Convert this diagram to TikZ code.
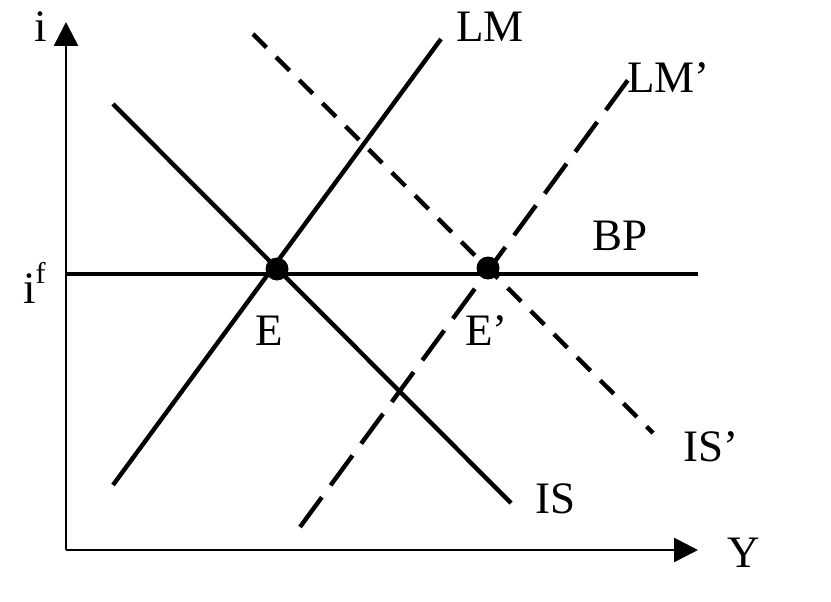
\documentclass[tikz,border=0pt]{standalone}
\usepackage{fontspec}
\setmainfont{Liberation Serif}
\usetikzlibrary{arrows.meta}
\begin{document}
\begin{tikzpicture}[x=1pt,y=-1pt,
  axis/.style={line width=2.8pt,-{Triangle[length=24pt,width=24pt]}},
  curve/.style={line width=4.4pt},
  lmdash/.style={line width=4.4pt,dash pattern=on 37pt off 14.7pt},
  isdash/.style={line width=4.4pt,dash pattern=on 19pt off 13.7pt},
  lbl/.style={inner sep=0pt,anchor=base west,font=\fontsize{45}{54}\selectfont},
  dot/.style={circle,fill=black,inner sep=0pt,minimum size=23pt}]
\useasboundingbox (0,0) rectangle (831,602);
% coordinates
\coordinate (O) at (66,550);
\coordinate (ytip) at (66,22);
\coordinate (xtip) at (698,550);
\coordinate (bpL) at (66,274);
\coordinate (bpR) at (698,274);
\coordinate (lmA) at (113,485);
\coordinate (lmB) at (441,39);
\coordinate (isA) at (113,104);
\coordinate (isB) at (511,503);
\coordinate (lmpA) at (300,527);
\coordinate (lmpB) at (628,80);
\coordinate (ispA) at (253,34);
\coordinate (ispB) at (653,433);
% axes
\draw[axis] (O) -- (ytip);
\draw[axis] (O) -- (xtip);
% curves
\draw[curve] (bpL) -- (bpR);
\draw[curve] (lmA) -- (lmB);
\draw[curve] (isA) -- (isB);
\draw[lmdash] (lmpA) -- (lmpB);
\draw[isdash] (ispA) -- (ispB);
% dots
\node[dot] (E) at (277,269) {};
\node[dot] (Ep) at (488,268) {};
% labels
\node[lbl] (li) at (34,42) {i};
\node[lbl] (lY) at (727,567) {Y};
\node[lbl] (lif) at (23,303) {i\raisebox{20pt}{\fontsize{30}{30}\selectfont f}};
\node[lbl] (lLM) at (456,42) {LM};
\node[lbl] (lLMp) at (627,93) {LM’};
\node[lbl] (lBP) at (592,250) {BP};
\node[lbl] (lE) at (255,345) {E};
\node[lbl] (lEp) at (465,345) {E’};
\node[lbl] (lISp) at (683,461) {IS’};
\node[lbl] (lIS) at (535,513) {IS};
\end{tikzpicture}
\end{document}
